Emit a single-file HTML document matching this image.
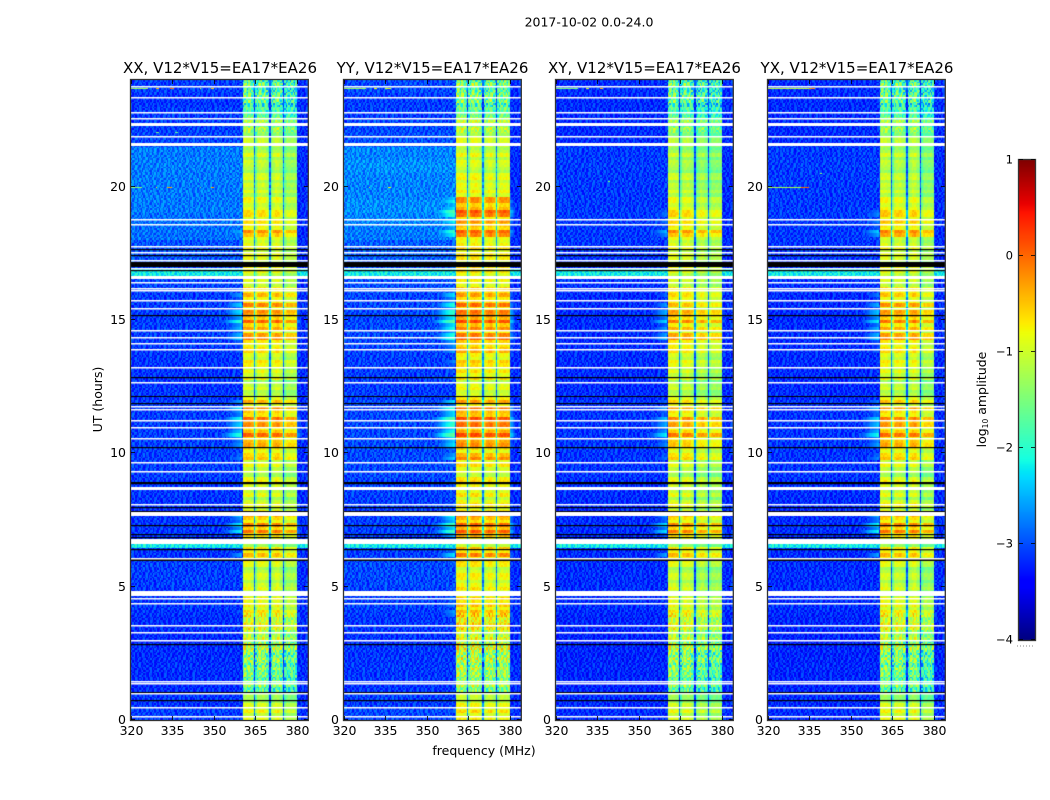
<!DOCTYPE html>
<html>
<head>
<meta charset="utf-8">
<title>2017-10-02 0.0-24.0</title>
<style>
html,body{margin:0;padding:0;background:#fff;}
#fig{position:relative;width:1050px;height:800px;overflow:hidden;background:#fff;font-family:"DejaVu Sans","Liberation Sans",sans-serif;}
canvas{position:absolute;display:block;}
svg{position:absolute;left:0;top:0;}
text{font-family:"DejaVu Sans","Liberation Sans",sans-serif;fill:#000;}
</style>
</head>
<body>
<div id="fig">
<canvas id="cv0"></canvas>
<canvas id="cv1"></canvas>
<canvas id="cv2"></canvas>
<canvas id="cv3"></canvas>
<canvas id="cbar"></canvas>
<svg id="ov" width="1050" height="800">
<text x="589" y="26.5" text-anchor="middle" font-size="12.5">2017-10-02 0.0-24.0</text>
<text x="220" y="73" text-anchor="middle" font-size="15">XX, V12*V15=EA17*EA26</text>
<text x="432.5" y="73" text-anchor="middle" font-size="15">YY, V12*V15=EA17*EA26</text>
<text x="644.5" y="73" text-anchor="middle" font-size="15">XY, V12*V15=EA17*EA26</text>
<text x="857" y="73" text-anchor="middle" font-size="15">YX, V12*V15=EA17*EA26</text>
<text x="484" y="755" text-anchor="middle" font-size="12.5">frequency (MHz)</text>
<text transform="translate(102,399.5) rotate(-90)" text-anchor="middle" font-size="12.5">UT (hours)</text>
<text transform="translate(986,399.5) rotate(-90)" text-anchor="middle" font-size="12.5">log<tspan font-size="7.5" dy="2">10</tspan><tspan dy="-2"> amplitude</tspan></text>
</svg>
</div>
<script>
// ---------- Tick labels ----------
const freqTicks = [320, 335, 350, 365, 380];
const hourTicks = [0, 5, 10, 15, 20];
const colorTicks = [1, 0, -1, -2, -3, -4];

// ---------- Band level (log10 amplitude), one value per 0.25 hour bin ----------
const bandXX = [-0.9,-0.9,-1.0,-1.3,-1.6,-1.5,-1.6,-1.5,-1.4,-1.4,-1.3,-1.2,-1.1,-1.0,-0.9,-0.85,-0.8,-0.8,-0.8,-1.0,-1.0,-1.05,-1.0,-0.9,-0.6,-0.65,-1.0,-0.65,-0.4,-0.35,-0.4,-0.9,-0.9,-1.0,-1.1,-0.8,-1.0,-1.0,-0.9,-0.65,-0.6,-0.55,-0.32,-0.28,-0.42,-0.38,-0.38,-0.48,-1.0,-1.0,-1.1,-0.9,-0.9,-0.8,-0.8,-0.7,-0.52,-0.48,-0.42,-0.32,-0.38,-0.38,-0.48,-0.48,-0.8,-0.8,-0.9,-0.9,-0.9,-0.9,-0.9,-0.9,-0.6,-0.55,-0.65,-0.7,-0.8,-0.85,-0.9,-1.0,-1.0,-1.05,-1.05,-1.1,-1.05,-1.05,-1.1,-1.2,-1.2,-1.3,-1.6,-1.7,-1.7,-1.75,-1.7,-1.7];
const bandYY = [-0.75,-0.75,-0.85,-1.1,-1.35,-1.3,-1.35,-1.25,-1.2,-1.15,-1.1,-1.0,-0.95,-0.85,-0.7,-0.6,-0.6,-0.55,-0.6,-0.8,-0.85,-0.85,-0.85,-0.7,-0.45,-0.5,-0.8,-0.45,-0.25,-0.2,-0.25,-0.75,-0.7,-0.8,-0.95,-0.65,-0.85,-0.85,-0.7,-0.5,-0.45,-0.4,-0.18,-0.14,-0.24,-0.2,-0.25,-0.35,-0.85,-0.85,-0.9,-0.75,-0.7,-0.65,-0.65,-0.55,-0.35,-0.3,-0.25,-0.18,-0.2,-0.25,-0.35,-0.35,-0.65,-0.65,-0.7,-0.75,-0.75,-0.7,-0.7,-0.75,-0.35,-0.3,-0.3,-0.25,-0.22,-0.28,-0.5,-0.8,-0.85,-0.9,-0.95,-0.95,-0.95,-0.95,-1.0,-1.05,-1.05,-1.15,-1.45,-1.55,-1.55,-1.6,-1.55,-1.55];
const bandXY = [-0.95,-0.95,-1.05,-1.35,-1.55,-1.5,-1.55,-1.45,-1.35,-1.35,-1.3,-1.2,-1.1,-1.05,-0.95,-0.85,-0.85,-0.85,-0.9,-1.05,-1.05,-1.1,-1.05,-0.9,-0.6,-0.65,-1.05,-0.65,-0.45,-0.4,-0.5,-1.0,-0.85,-1.0,-1.1,-0.85,-1.05,-1.05,-0.95,-0.7,-0.7,-0.6,-0.42,-0.38,-0.52,-0.52,-0.52,-0.62,-1.05,-1.05,-1.1,-1.0,-0.95,-0.9,-0.85,-0.75,-0.6,-0.55,-0.5,-0.47,-0.47,-0.52,-0.62,-0.62,-0.85,-0.85,-0.95,-0.95,-0.95,-0.95,-0.95,-0.95,-0.6,-0.55,-0.6,-0.65,-0.75,-0.85,-0.95,-1.05,-1.1,-1.1,-1.15,-1.2,-1.15,-1.15,-1.2,-1.3,-1.3,-1.35,-1.65,-1.7,-1.7,-1.75,-1.7,-1.7];
const bandYX = [-0.85,-0.9,-1.0,-1.4,-1.6,-1.55,-1.6,-1.5,-1.45,-1.4,-1.35,-1.25,-1.1,-1.0,-0.9,-0.85,-0.85,-0.8,-0.9,-1.05,-1.05,-1.1,-1.05,-0.9,-0.6,-0.65,-1.05,-0.65,-0.4,-0.35,-0.45,-0.95,-0.8,-1.0,-1.1,-0.8,-1.05,-1.05,-0.9,-0.65,-0.65,-0.55,-0.38,-0.33,-0.47,-0.47,-0.47,-0.57,-1.0,-1.05,-1.1,-0.95,-0.9,-0.85,-0.8,-0.7,-0.55,-0.5,-0.45,-0.42,-0.42,-0.47,-0.57,-0.57,-0.8,-0.85,-0.9,-0.95,-0.95,-0.95,-0.9,-0.95,-0.55,-0.5,-0.55,-0.6,-0.7,-0.8,-0.95,-1.05,-1.05,-1.1,-1.1,-1.15,-1.1,-1.1,-1.15,-1.25,-1.25,-1.3,-1.65,-1.7,-1.7,-1.75,-1.7,-1.7];

// ---------- Off-band background level, one value per 0.5 hour bin ----------
const bgParallelXX = [-3.1,-3.15,-3.2,-3.2,-3.2,-3.2,-3.2,-3.2,-3.15,-3.15,-3.1,-3.1,-3.15,-3.15,-3.15,-3.15,-3.15,-3.15,-3.1,-3.1,-3.1,-3.1,-3.1,-3.1,-3.15,-3.15,-3.15,-3.15,-3.1,-3.1,-3.1,-3.1,-3.05,-3.05,-3.0,-3.0,-2.85,-2.85,-2.8,-2.8,-2.8,-2.8,-2.8,-3.05,-3.1,-3.1,-3.15,-3.1];
const bgParallelYY = [-3.05,-3.1,-3.15,-3.15,-3.15,-3.15,-3.15,-3.15,-3.1,-3.1,-3.05,-3.05,-3.1,-3.1,-3.1,-3.1,-3.1,-3.1,-3.05,-3.05,-3.05,-3.05,-3.05,-3.05,-3.1,-3.1,-3.1,-3.1,-3.05,-3.05,-3.05,-3.05,-3.0,-3.0,-2.95,-2.95,-2.8,-2.75,-2.7,-2.75,-2.75,-2.7,-2.75,-3.0,-3.05,-3.1,-3.1,-3.05];
const bgCross = [-3.2,-3.2,-3.25,-3.25,-3.25,-3.25,-3.25,-3.25,-3.2,-3.2,-3.2,-3.2,-3.2,-3.2,-3.2,-3.2,-3.2,-3.2,-3.15,-3.15,-3.15,-3.15,-3.15,-3.15,-3.2,-3.2,-3.2,-3.2,-3.2,-3.2,-3.2,-3.2,-3.15,-3.15,-3.15,-3.15,-3.12,-3.12,-3.12,-3.12,-3.12,-3.12,-3.12,-3.2,-3.2,-3.2,-3.2,-3.2];

// ---------- Channel response of the 360-380 MHz band, 0.5 MHz per entry ----------
const bandShape = [-9,-0.08,0,0,0,0,-0.03,-0.08,-0.2,-1.9,-0.5,-0.12,-0.03,0,0,0,-0.03,-0.08,-0.15,-0.4,-1.9,-0.45,-0.25,-0.12,0,0,0,-0.1,-0.2,-0.35,-1.9,-0.3,-0.08,0,0,0,0,0,-0.03,-0.08];
const subbandGainXX = [0, -0.02, -0.02, -0.3];
const subbandGainYY = [0, 0, -0.05, -0.08];
const subbandGainXY = [0, -0.05, -0.2, -0.3];
const subbandGainYX = [0, -0.05, -0.02, -0.35];

// ---------- Spill-over either side of the band, 0.5 MHz per entry ----------
const shoulderLeft = [-1.3,-1.2,-1.1,-1.0,-0.9,-0.8,-0.7,-0.6,-0.5,-0.4,-0.3,-0.25,-0.2,-0.15,-0.1,0];
const shoulderRight = [-0.5,-0.7,-0.9,-1.1,-1.3,-1.5,-1.7,-1.9];
const quietBg = [-3.2];

// ---------- Fine structure read as signed deviations per channel and per row ----------
const chanDetail = [2,-3,1,3,-1,-2,3,1,-3,2,-1,3,-2,1,2,-3,-1,3,2,-2,1,-3,3,-1,2,1,-2,-3,3,1,-1,2,-3,1,3,-2,-1,2,3,-3,1,-1,-2,3,2,-1,-3,1,3,-2,2,1,-3,-1,3,2,-2,-1,1,3,-3,2,-1,1,3,-2,-3,2,1,-1,3,-2,1,-3,2,3,-1,-2,1,3,-3,-1,2,1,-2,3,-1,-3,2,1,3,-2,-1,2,-3,1,3,-1,-2,2,-3,3,1,-1,2,-2,3,-3,1,2,-1,-2,3,1,-3,-1,2,3,-2,1,-1,3,-3,2,1,-2,-1,3];
const rowDetail = [1,-2,3,-1,2,-3,1,2,-1,-3,3,1,-2,2,-1,3,-3,1,2,-2,-1,3,1,-3,2,-1,-2,3,1,-1,-3,2,3,-2,1,-1,2,-3,-1,3,1,-2,2,3,-1,-3,1,2,-2,3,-1,1,-3,2,-2,1,3,-1,2,-3,-1,1,3,-2,2,-1,-3,3,1,-2,-1,2,3,-3,1,-1,2,-2,3,1,-3,-1,2,1,-2,3,-1,-3,2,1,3,-2,-1,2,-3,1,3,-1,-2,2,1,-3,3,-1,2,-2,1,3,-3,-1,2,1,-2,-1,3,2,-3,1,-2,3,-1,1,2,-3,3,-1,-2,1,2,3,-3,-1,1,-2,2,3,-1,-3,1,2,-2,3,1,-1,-3,2,3,-2,-1,1,-3,2,3,-1,-2,1,3,-3,2,-1,1,-2,3,2,-3,-1,1,2,-2,3,-1,-3,1,2,3,-2,-1,1,-3,2,3,-1,-2,1,-3,2,1,3,-1,-2,3,-1];
const bandNoisePerHour = [0.5,2.2,2.6,1.6,0.6,0.4,0.4,0.4,0.5,0.4,0.4,0.4,0.4,0.4,0.4,0.4,0.5,0.5,0.4,0.4,0.4,0.5,1.6,2.6];

// ---------- Flagged rows, in hours ----------
const whiteLines = [0.14,0.48,1.0,1.4,1.47,3.01,3.31,3.55,4.38,4.58,6.09,8.1,9.34,9.69,10.56,10.98,11.24,11.66,11.79,12.66,13.23,13.91,14.13,14.35,14.63,15.45,15.74,16.12,16.21,16.41,16.95,17.25,17.56,17.78,18.6,18.79,21.9,22.58,22.79,23.35,23.77];
const whiteBands = [[4.65,4.85],[6.6,6.77],[7.65,7.81],[8.63,8.75],[16.53,16.65],[21.52,21.65],[22.27,22.4]];
const blackLines = [0.76,1.06,2.86,6.4,6.85,6.96,7.31,7.84,8.0,8.87,8.93,10.25,11.87,12.85,15.18,16.87,17.44,17.66];
const blackBands = [[5.96,6.05],[12.1,12.16],[17.0,17.19]];
const brightRows = [[6.45,6.6,-2.2],[16.66,16.9,-2.2]];

// ---------- Narrowband interference: [hour, start MHz, end MHz, log10 amplitude] ----------
const rfiXX = [[23.7,320,326,-1.3],[23.7,329,330,-0.4],[23.7,334,335.5,0],[23.7,345,345.5,-1],[23.7,349,350,-0.5],[20,320,324,-1.4],[20,329,329.5,-0.8],[20,333,335,-0.3],[20,345,345.5,-1.5],[20,349,350,-0.3],[22.05,329,330,-1.5],[22.05,336,337,-1.6]];
const rfiYY = [[23.7,320,328,-1.3],[23.7,331,332,-0.8],[23.7,335,337,-0.9],[20,329,329.5,-1.2],[20,336,337,-0.8]];
const rfiXY = [[23.7,320,328,-1.5],[23.7,331,332,-1.0],[23.7,336,337,-0.5],[20.2,339,339.5,-1.4]];
const rfiYX = [[23.7,320,335,-1.1],[23.7,335,337,-0.2],[20,320,332,-1.2],[20,332,335,0],[20.5,339,339.5,-1.4]];

const panelLefts = [131, 344, 556, 768];
const panelBands = [bandXX, bandYY, bandXY, bandYX];
const panelBgs = [bgParallelXX, bgParallelYY, bgCross, bgCross];
const panelGains = [subbandGainXX, subbandGainYY, subbandGainXY, subbandGainYX];
const panelRfi = [rfiXX, rfiYY, rfiXY, rfiYX];
const panelKeys = ['xx', 'yy', 'xy', 'yx'];

const AX_TOP = 80, AX_BOTTOM = 720, AX_W = 176.8;
const F0 = 320, F1 = 384, H0 = 0, H1 = 24;
const ROWS = 384, CHANS = 128, ROW_H = 24 / ROWS, CHAN_W = 64 / CHANS;
function yScale(h){ return AX_BOTTOM - (h - H0) / (H1 - H0) * (AX_BOTTOM - AX_TOP); }
function xScale(f){ return (f - F0) / (F1 - F0) * AX_W; }

function lerpStops(t, s){
  if (t <= s[0][0]) return s[0][1];
  for (let i = 1; i < s.length; i++){
    if (t <= s[i][0]){
      const k = (t - s[i-1][0]) / (s[i][0] - s[i-1][0]);
      return s[i-1][1] + k * (s[i][1] - s[i-1][1]);
    }
  }
  return s[s.length-1][1];
}
const jetR = [[0.35,0],[0.66,1],[0.89,1],[1,0.5]];
const jetG = [[0.125,0],[0.375,1],[0.64,1],[0.91,0]];
const jetB = [[0,0.5],[0.11,1],[0.34,1],[0.65,0]];
function colorOf(v){
  const t = Math.max(0, Math.min(1, (v + 4) / 5));
  const r = Math.round(255 * lerpStops(t, jetR));
  const g = Math.round(255 * lerpStops(t, jetG));
  const b = Math.round(255 * lerpStops(t, jetB));
  return 'rgb(' + r + ',' + g + ',' + b + ')';
}

function cellValue(p, r, c){
  const hour = r * ROW_H, freq = F0 + c * CHAN_W;
  const level = panelBands[p][Math.floor(hour / 0.25)];
  let bg = panelBgs[p][Math.floor(hour / 0.5)];
  if (freq >= 380) bg = Math.min(bg, quietBg[0]);
  for (const b of brightRows){
    if (hour + ROW_H > b[0] && hour < b[1]) bg = Math.max(bg, b[2]);
  }
  const rd = rowDetail[Math.floor(r / 2) % rowDetail.length];
  const cd = chanDetail[(c + r * 37 + rd * 11 + 33) % chanDetail.length];
  let v = bg + cd * 0.1;
  const spill = level * 2.2 - 1.6;
  if (freq >= 352 && freq < 360){
    v = Math.max(v, spill + shoulderLeft[(freq - 352) * 2] + rd * 0.12);
  } else if (freq >= 380){
    v = Math.max(v, spill + shoulderRight[(freq - 380) * 2] + rd * 0.08);
  } else if (freq >= 360 && freq < 380){
    const shape = bandShape[(freq - 360) * 2];
    if (shape > -5){
      const gain = panelGains[p][Math.floor((freq - 360) / 5)];
      const noise = bandNoisePerHour[Math.floor(hour)];
      const stripe = level > -0.6 ? 0.13 : 0.07;
      v = Math.max(v, level + shape + gain + rd * stripe + cd * noise * 0.08);
    }
  }
  return v;
}

function drawPanel(p){
  const cv = document.getElementById('cv' + p);
  const w = Math.ceil(AX_W), h = AX_BOTTOM - AX_TOP;
  cv.width = w; cv.height = h;
  cv.style.left = panelLefts[p] + 'px';
  cv.style.top = AX_TOP + 'px';
  const ctx = cv.getContext('2d');
  ctx.fillStyle = '#fff';
  ctx.fillRect(0, 0, w, h);
  for (let r = 0; r < ROWS; r++){
    const y1 = Math.round(yScale((r + 1) * ROW_H) - AX_TOP);
    const y0 = Math.round(yScale(r * ROW_H) - AX_TOP);
    for (let c = 0; c < CHANS; c++){
      const x0 = Math.round(xScale(F0 + c * CHAN_W));
      const x1 = Math.round(xScale(F0 + (c + 1) * CHAN_W));
      ctx.fillStyle = colorOf(cellValue(p, r, c));
      ctx.fillRect(x0, y1, x1 - x0, y0 - y1);
    }
  }
  for (const e of panelRfi[p]){
    const x0 = Math.round(xScale(e[1]));
    const x1 = Math.round(xScale(e[2]));
    ctx.fillStyle = colorOf(e[3]);
    ctx.fillRect(x0, Math.round(yScale(e[0]) - AX_TOP), Math.max(1, x1 - x0), 1);
  }
  function band(list, color){
    ctx.fillStyle = color;
    for (const b of list){
      const y0 = Math.round(yScale(b[1]) - AX_TOP);
      const y1 = Math.round(yScale(b[0]) - AX_TOP);
      ctx.fillRect(0, y0, w, Math.max(1, y1 - y0));
    }
  }
  function line(list, color, thickness){
    ctx.fillStyle = color;
    for (const hv of list){
      ctx.fillRect(0, Math.round(yScale(hv) - AX_TOP), w, thickness);
    }
  }
  band(blackBands, '#000');
  line(blackLines, '#000', 1.2);
  band(whiteBands, '#fff');
  line(whiteLines, '#fff', 1.5);
}

const svgNS = 'http://www.w3.org/2000/svg';
const ov = document.getElementById('ov');
function svgEl(tag, attrs){
  const el = document.createElementNS(svgNS, tag);
  for (const k in attrs) el.setAttribute(k, attrs[k]);
  ov.appendChild(el);
  return el;
}

function drawAxes(p){
  const L = panelLefts[p], key = panelKeys[p];
  const frame = svgEl('rect', {x: L - 0.5, y: AX_TOP - 0.5, width: AX_W + 1, height: AX_BOTTOM - AX_TOP + 1, fill: 'none', stroke: '#333', 'stroke-width': 1.3});
  
  
  for (const f of freqTicks){
    const x = Math.round(L + xScale(f)) + 0.5;
    const lab = svgEl('text', {x: x, y: 735, 'text-anchor': 'middle', 'font-size': 12.5});
    lab.textContent = f;
    
    
    const t1 = svgEl('line', {x1: x, x2: x, y1: AX_BOTTOM, y2: AX_BOTTOM - 4, stroke: '#000', 'stroke-width': 0.8});
    
    
    const t2 = svgEl('line', {x1: x, x2: x, y1: AX_TOP, y2: AX_TOP + 4, stroke: '#000', 'stroke-width': 0.8});
    
    
  }
  for (const h of hourTicks){
    const y = Math.round(yScale(h)) - 0.5;
    const lab = svgEl('text', {x: L - 5, y: y + 4.5, 'text-anchor': 'end', 'font-size': 12.5});
    lab.textContent = h;
    
    
    const t1 = svgEl('line', {x1: L, x2: L + 4, y1: y, y2: y, stroke: '#000', 'stroke-width': 0.8});
    
    
    const t2 = svgEl('line', {x1: L + AX_W, x2: L + AX_W - 4, y1: y, y2: y, stroke: '#000', 'stroke-width': 0.8});
    
    
  }
}

function drawColorbar(){
  const CX = 1019, CW = 16, CT = 160, CB = 640;
  const cv = document.getElementById('cbar');
  cv.width = CW; cv.height = CB - CT;
  cv.style.left = CX + 'px';
  cv.style.top = CT + 'px';
  const ctx = cv.getContext('2d');
  for (let y = 0; y < CB - CT; y++){
    ctx.fillStyle = colorOf(1 - (y + 0.5) / (CB - CT) * 5);
    ctx.fillRect(0, y, CW, 1);
  }
  const frame = svgEl('rect', {x: CX - 0.5, y: CT - 0.5, width: CW + 1, height: CB - CT + 1, fill: 'none', stroke: '#333', 'stroke-width': 1.3});
  
  
  function cbY(v){ return CT + (1 - v) / 5 * (CB - CT); }
  for (const v of colorTicks){
    const y = Math.round(cbY(v)) - 0.5;
    const lab = svgEl('text', {x: 1013, y: y + 4, 'text-anchor': 'end', 'font-size': 11.6});
    lab.textContent = v < 0 ? '\u2212' + Math.abs(v) : String(v);
    
    
    const t1 = svgEl('line', {x1: CX, x2: CX + 4, y1: y, y2: y, stroke: '#000', 'stroke-width': 0.8});
    
    
    const t2 = svgEl('line', {x1: CX + CW, x2: CX + CW - 4, y1: y, y2: y, stroke: '#000', 'stroke-width': 0.8});
    
    
  }
  const dots = svgEl('line', {x1: CX - 2, x2: CX + CW, y1: 646, y2: 646, stroke: '#888', 'stroke-width': 1, 'stroke-dasharray': '1 2'});
  
  
}

for (let p = 0; p < 4; p++){ drawPanel(p); drawAxes(p); }
drawColorbar();
</script>
</body>
</html>
